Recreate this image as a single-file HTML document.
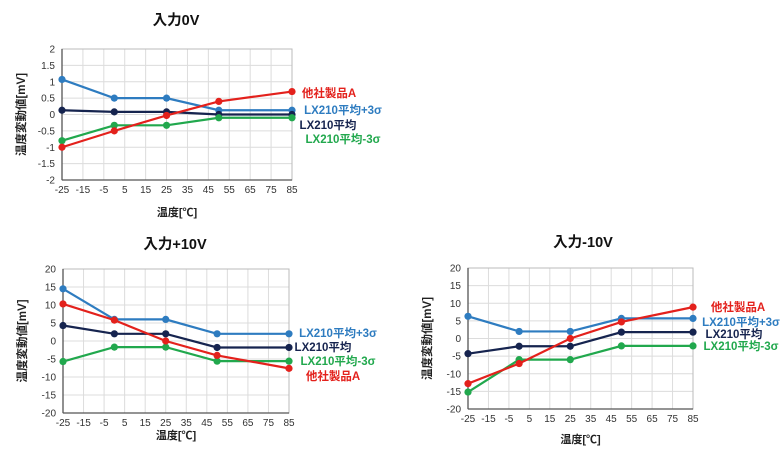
<!DOCTYPE html>
<html><head><meta charset="utf-8"><style>
body{margin:0;background:#fff;}
svg text{font-family:"Liberation Sans","Noto Sans CJK JP",sans-serif;}
</style></head><body>
<svg id="s" width="781" height="452" viewBox="0 0 781 452" xmlns="http://www.w3.org/2000/svg"></svg>
<script>
const xCats=[-25,0,25,50,85];
const xTicks=[-25,-15,-5,5,15,25,35,45,55,65,75,85];
const c1Ticks=[2,1.5,1,0.5,0,-0.5,-1,-1.5,-2];
const c1Plus=[1.07,0.5,0.5,0.13,0.13];
const c1Mean=[0.13,0.08,0.08,0,0];
const c1Minus=[-0.8,-0.33,-0.33,-0.1,-0.1];
const c1Other=[-1,-0.5,-0.03,0.4,0.7];
const c2Ticks=[20,15,10,5,0,-5,-10,-15,-20];
const c2Plus=[14.5,6,6,2,2];
const c2Mean=[4.3,2,2,-1.8,-1.8];
const c2Minus=[-5.7,-1.7,-1.7,-5.6,-5.6];
const c2Other=[10.3,5.8,0,-4,-7.6];
const c3Plus=[6.3,2,2,5.7,5.7];
const c3Mean=[-4.3,-2.2,-2.2,1.8,1.8];
const c3Minus=[-15.2,-6,-6,-2.1,-2.1];
const c3Other=[-12.8,-7.1,0,4.7,8.9];
const COL={plus:'#2e7cc0',mean:'#16244f',minus:'#21a84d',other:'#e3211c'};
const NS='http://www.w3.org/2000/svg';
const svg=document.getElementById('s');
function mk(t,a,p){const e=document.createElementNS(NS,t);for(const k in a)e.setAttribute(k,a[k]);(p||svg).appendChild(e);return e;}
function chart(cfg){
  const g=mk('g',{});
  
  
  const {L,R,T,B}=cfg;
  const ymax=cfg.ticks[0],ymin=cfg.ticks[cfg.ticks.length-1];
  const sx=v=>L+(v-xTicks[0])/(xTicks[xTicks.length-1]-xTicks[0])*(R-L);
  const sy=v=>T+(ymax-v)/(ymax-ymin)*(B-T);
  xTicks.forEach(v=>{const l=mk('line',{x1:sx(v),x2:sx(v),y1:T,y2:B,stroke:'#dcdcdc','stroke-width':1},g);
    
    const t=mk('text',{x:sx(v),y:B+13,'font-size':10,'text-anchor':'middle',fill:'#333'},g);t.textContent=v;
    });
  cfg.ticks.forEach(v=>{const l=mk('line',{x1:L,x2:R,y1:sy(v),y2:sy(v),stroke:'#dcdcdc','stroke-width':1},g);
    
    const t=mk('text',{x:L-7,y:sy(v)+3.5,'font-size':10,'text-anchor':'end',fill:'#333'},g);t.textContent=v;
    });
  const fr=mk('rect',{x:L,y:T,width:R-L,height:B-T,fill:'none',stroke:'#bbb'},g);
  
  const ax=mk('line',{x1:L,x2:L,y1:T,y2:B,stroke:'#555','stroke-width':1.3},g);
  
  const ax2=mk('line',{x1:L,x2:R,y1:B,y2:B,stroke:'#555','stroke-width':1.3},g);
  
  cfg.series.forEach(s=>{
    const pts=xCats.map((x,i)=>sx(x)+','+sy(s.data[i])).join(' ');
    const pl=mk('polyline',{points:pts,fill:'none',stroke:COL[s.key],'stroke-width':2.2},g);
    
    xCats.forEach((x,i)=>{const c=mk('circle',{cx:sx(x),cy:sy(s.data[i]),r:3.6,fill:COL[s.key]},g);
      });
  });
  const tt=mk('text',{x:cfg.tx,y:cfg.ty,'font-size':14.5,'font-weight':'bold','text-anchor':'middle',fill:'#111'},g);tt.textContent=cfg.title;
  
  const yc=(T+B)/2;
  const yt=mk('text',{x:0,y:0,'font-size':11.5,'font-weight':'bold','text-anchor':'middle',fill:'#222',transform:`translate(${L-37},${yc}) rotate(-90)`},g);yt.textContent='温度変動値[mV]';
  
  const xt=mk('text',{x:(L+R)/2,y:cfg.xty,'font-size':11,'font-weight':'bold','text-anchor':'middle',fill:'#222'},g);xt.textContent='温度[℃]';
  
  cfg.legend.forEach(e=>{const t=mk('text',{x:e[1],y:e[2]+4,'font-size':11.5,'font-weight':'bold','text-anchor':'middle',fill:COL[e[0]]},g);
    t.textContent={plus:'LX210平均+3σ',mean:'LX210平均',minus:'LX210平均-3σ',other:'他社製品A'}[e[0]];
    });
}
chart({name:'chart-0v',L:62,R:292,T:49,B:180,ticks:c1Ticks,title:'入力0V',tx:176,ty:25,xty:216,
  series:[{key:'plus',data:c1Plus},{key:'mean',data:c1Mean},{key:'minus',data:c1Minus},{key:'other',data:c1Other}],
  legend:[['other',329,93],['plus',343,110],['mean',328,125],['minus',343,139]]});
chart({name:'chart-plus10v',L:63,R:289,T:269,B:413,ticks:c2Ticks,title:'入力+10V',tx:175,ty:249,xty:439,
  series:[{key:'plus',data:c2Plus},{key:'mean',data:c2Mean},{key:'minus',data:c2Minus},{key:'other',data:c2Other}],
  legend:[['plus',338,333],['mean',323,347],['minus',338,361],['other',333,376]]});
chart({name:'chart-minus10v',L:468,R:693,T:268,B:409,ticks:c2Ticks,title:'入力-10V',tx:583,ty:247,xty:443,
  series:[{key:'plus',data:c3Plus},{key:'mean',data:c3Mean},{key:'minus',data:c3Minus},{key:'other',data:c3Other}],
  legend:[['other',738,307],['plus',741,322],['mean',734,334],['minus',741,346]]});
</script>
</body></html>
